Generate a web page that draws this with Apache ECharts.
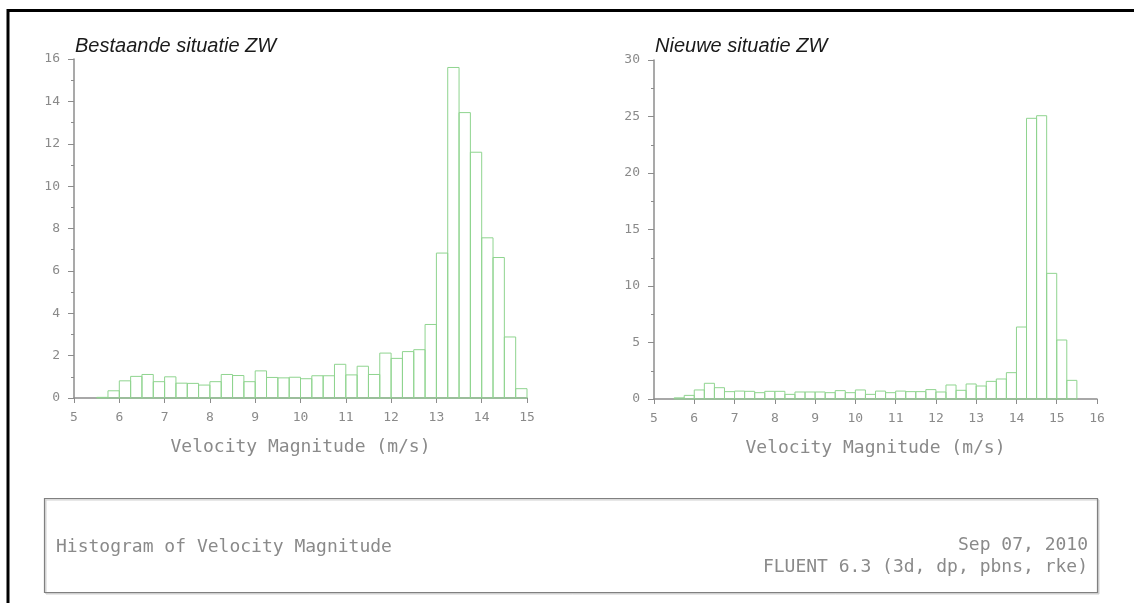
<!DOCTYPE html>
<html>
<head>
<meta charset="utf-8">
<script src="https://cdn.jsdelivr.net/npm/echarts@6/dist/echarts.min.js"></script>
<style>
html,body{margin:0;padding:0;background:#fff;}
#chart{width:1134px;height:603px;}
</style>
</head>
<body>
<div id="chart"></div>
<script>
// ---------- data ----------
const titleLeft = 'Bestaande situatie ZW';
const titleRight = 'Nieuwe situatie ZW';
const axisTitle = 'Velocity Magnitude (m/s)';
const footerLeft = 'Histogram of Velocity Magnitude';
const footerDate = 'Sep 07, 2010';
const footerSolver = 'FLUENT 6.3 (3d, dp, pbns, rke)';

const binWidth = 0.25;

const leftBinStarts = [5.5, 5.75, 6.0, 6.25, 6.5, 6.75, 7.0, 7.25, 7.5, 7.75,
  8.0, 8.25, 8.5, 8.75, 9.0, 9.25, 9.5, 9.75, 10.0, 10.25, 10.5, 10.75,
  11.0, 11.25, 11.5, 11.75, 12.0, 12.25, 12.5, 12.75, 13.0, 13.25, 13.5, 13.75,
  14.0, 14.25, 14.5, 14.75];
const leftValues = [0.03, 0.34, 0.81, 1.02, 1.11, 0.77, 1.00, 0.70, 0.69, 0.61,
  0.77, 1.11, 1.06, 0.77, 1.28, 0.97, 0.95, 0.98, 0.91, 1.05, 1.05, 1.59,
  1.09, 1.50, 1.11, 2.12, 1.87, 2.19, 2.28, 3.47, 6.84, 15.6, 13.47, 11.6,
  7.56, 6.63, 2.88, 0.44];

const rightBinStarts = [5.5, 5.75, 6.0, 6.25, 6.5, 6.75, 7.0, 7.25, 7.5, 7.75,
  8.0, 8.25, 8.5, 8.75, 9.0, 9.25, 9.5, 9.75, 10.0, 10.25, 10.5, 10.75,
  11.0, 11.25, 11.5, 11.75, 12.0, 12.25, 12.5, 12.75, 13.0, 13.25, 13.5, 13.75,
  14.0, 14.25, 14.5, 14.75, 15.0, 15.25];
const rightValues = [0.10, 0.32, 0.80, 1.39, 1.00, 0.65, 0.70, 0.68, 0.56, 0.68,
  0.68, 0.41, 0.62, 0.62, 0.62, 0.56, 0.74, 0.56, 0.80, 0.41, 0.70, 0.56,
  0.70, 0.65, 0.65, 0.83, 0.62, 1.24, 0.77, 1.33, 1.15, 1.56, 1.77, 2.33,
  6.37, 24.84, 25.07, 11.12, 5.22, 1.65];

const leftXTicks = {min: 5, max: 15, interval: 1};
const leftYTicks = {min: 0, max: 16, interval: 2};
const rightXTicks = {min: 5, max: 16, interval: 1};
const rightYTicks = {min: 0, max: 30, interval: 5};

// ---------- styles ----------
const GREEN = '#8fd48f';
const AXIS = '#8c8c8c';
const TXT = '#8a8a8a';
const MONO = '"DejaVu Sans Mono", monospace';

function toRows(starts, vals){
  return starts.map((s, i) => [s, s + binWidth, vals[i]]);
}

function renderBin(params, api){
  const x0 = api.value(0), x1 = api.value(1), y = api.value(2);
  const pTop = api.coord([x0, y]);
  const pBot = api.coord([x1, 0]);
  return {
    type: 'rect',
    shape: {x: pTop[0], y: pTop[1], width: pBot[0] - pTop[0], height: pBot[1] - pTop[1]},
    style: {fill: 'none', stroke: GREEN, lineWidth: 1}
  };
}

function xAxisCfg(idx, t){
  return {
    type: 'value', gridIndex: idx, min: t.min, max: t.max, interval: t.interval,
    name: axisTitle, nameLocation: 'middle', nameGap: 40,
    nameTextStyle: {fontFamily: MONO, fontSize: 18, color: TXT},
    axisLine: {show: true, onZero: false, lineStyle: {color: AXIS, width: 1.5}},
    axisTick: {show: true, length: 5, lineStyle: {color: AXIS, width: 1}},
    axisLabel: {fontFamily: MONO, fontSize: 13, color: TXT, margin: 13},
    splitLine: {show: false}
  };
}
function yAxisCfg(idx, t){
  return {
    type: 'value', gridIndex: idx, min: t.min, max: t.max, interval: t.interval,
    axisLine: {show: true, lineStyle: {color: AXIS, width: 1.5}},
    axisTick: {show: true, length: 6, lineStyle: {color: AXIS, width: 1}},
    minorTick: {show: true, splitNumber: 2, length: 3, lineStyle: {color: AXIS, width: 1}},
    axisLabel: {fontFamily: MONO, fontSize: 13, color: TXT, margin: 14},
    splitLine: {show: false}, minorSplitLine: {show: false}
  };
}

const TITLE_STYLE = {fontFamily: '"Liberation Sans", Arial, sans-serif', fontStyle: 'italic', fontWeight: 'normal', fontSize: 20, color: '#1a1a1a'};

const chart = echarts.init(document.getElementById('chart'), null, {renderer: 'canvas'});
chart.setOption({
  backgroundColor: '#fff',
  animation: false,
  title: [
    {text: titleLeft, left: 75, top: 36, padding: 0, textStyle: TITLE_STYLE},
    {text: titleRight, left: 655, top: 36, padding: 0, textStyle: TITLE_STYLE}
  ],
  grid: [
    {left: 74, right: 607, top: 59, bottom: 205},
    {left: 654, right: 37, top: 60, bottom: 204}
  ],
  xAxis: [xAxisCfg(0, leftXTicks), xAxisCfg(1, rightXTicks)],
  yAxis: [yAxisCfg(0, leftYTicks), yAxisCfg(1, rightYTicks)],
  series: [
    {type: 'custom', xAxisIndex: 0, yAxisIndex: 0, renderItem: renderBin,
     encode: {x: [0, 1], y: 2}, data: toRows(leftBinStarts, leftValues), z: 1},
    {type: 'custom', xAxisIndex: 1, yAxisIndex: 1, renderItem: renderBin,
     encode: {x: [0, 1], y: 2}, data: toRows(rightBinStarts, rightValues), z: 1}
  ],
  graphic: [
    {type: 'polyline', silent: true, z: 100,
     shape: {points: [[8, 603], [8, 10.5], [1134, 10.5]]},
     style: {stroke: '#000', lineWidth: 3, fill: null}},
    {type: 'rect', silent: true, z: 99,
     shape: {x: 45, y: 499, width: 1053, height: 94},
     style: {fill: '#fff', stroke: '#d0d0d0', lineWidth: 1, shadowBlur: 0, shadowOffsetX: 1, shadowOffsetY: 1, shadowColor: '#cfcfcf'}},
    {type: 'rect', silent: true, z: 100,
     shape: {x: 44.5, y: 498.5, width: 1053, height: 94},
     style: {fill: null, stroke: '#808080', lineWidth: 1.2}},
    {type: 'text', silent: true, z: 101, left: 56, top: 538,
     style: {text: footerLeft, fontFamily: MONO, fontSize: 18, fill: TXT}},
    {type: 'text', silent: true, z: 101, right: 1134 - 1088, top: 536,
     style: {text: footerDate, fontFamily: MONO, fontSize: 18, fill: TXT, textAlign: 'right'}},
    {type: 'text', silent: true, z: 101, right: 1134 - 1088, top: 558,
     style: {text: footerSolver, fontFamily: MONO, fontSize: 18, fill: TXT, textAlign: 'right'}}
  ]
});
</script>
</body>
</html>
